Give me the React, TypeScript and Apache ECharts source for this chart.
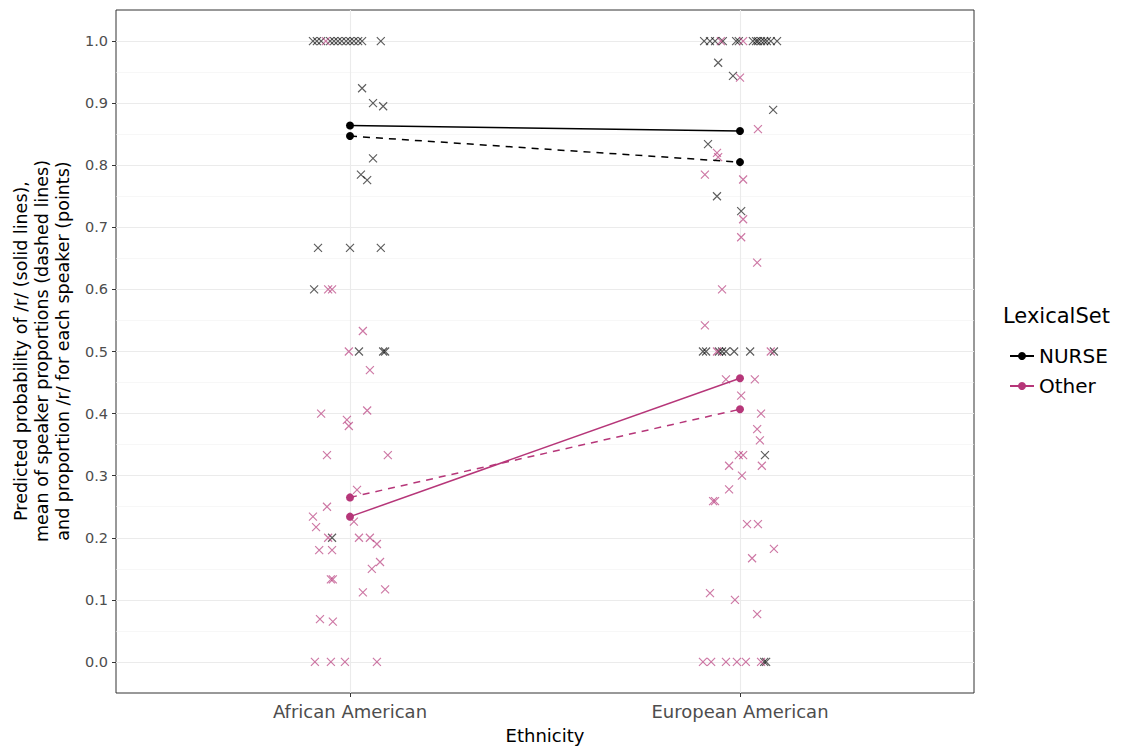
import React, { useEffect, useRef } from "react";
import * as echarts from "echarts";

// Categories (x positions 1 and 2)
const categories = ["African American", "European American"];
const yTicks = [0, 0.1, 0.2, 0.3, 0.4, 0.5, 0.6, 0.7, 0.8, 0.9, 1.0];
const yMinorTicks = [0.05, 0.15, 0.25, 0.35, 0.45, 0.55, 0.65, 0.75, 0.85, 0.95];

// Model predictions (solid) and means of speaker proportions (dashed)
const predNurse = [0.864, 0.855];
const predOther = [0.234, 0.457];
const meanNurse = [0.847, 0.805];
const meanOther = [0.265, 0.407];

// Speaker points: [jitter offset from category, proportion]
const aaNurse = [
  [-0.095, 1], [-0.085, 1], [-0.074, 1], [-0.051, 1], [-0.041, 1], [-0.031, 1], [-0.021, 1],
  [-0.01, 1], [0, 1], [0.01, 1], [0.021, 1], [0.031, 1], [0.079, 1],
  [0.031, 0.924], [0.059, 0.9], [0.085, 0.895], [0.059, 0.811], [0.028, 0.785], [0.044, 0.776],
  [-0.082, 0.667], [0, 0.667], [0.079, 0.667], [-0.092, 0.6], [0.023, 0.5], [0.085, 0.5],
  [0.09, 0.5], [-0.046, 0.2],
];
const aaOther = [
  [-0.062, 1], [-0.056, 0.6], [-0.046, 0.6], [0.033, 0.533], [-0.003, 0.5], [0.051, 0.47],
  [-0.074, 0.4], [0.044, 0.405], [-0.008, 0.39], [-0.003, 0.38], [-0.059, 0.333], [0.097, 0.333],
  [0.018, 0.277], [-0.059, 0.25], [-0.095, 0.234], [0.01, 0.226], [-0.087, 0.217], [-0.056, 0.2],
  [0.023, 0.2], [0.051, 0.2], [0.069, 0.19], [-0.079, 0.18], [-0.046, 0.18], [0.077, 0.161],
  [0.056, 0.15], [-0.049, 0.133], [-0.044, 0.133], [0.033, 0.112], [0.09, 0.117], [-0.077, 0.069],
  [-0.044, 0.065], [-0.09, 0], [-0.049, 0], [-0.013, 0], [0.069, 0],
];
const eaNurse = [
  [-0.092, 1], [-0.077, 1], [-0.064, 1], [-0.044, 1], [-0.01, 1], [-0.003, 1], [0.033, 1],
  [0.041, 1], [0.046, 1], [0.054, 1], [0.062, 1], [0.069, 1], [0.079, 1], [0.095, 1],
  [-0.056, 0.965], [-0.018, 0.944], [0.085, 0.889], [-0.082, 0.834], [-0.059, 0.75], [0.003, 0.726],
  [-0.095, 0.5], [-0.087, 0.5], [-0.054, 0.5], [-0.046, 0.5], [-0.036, 0.5], [-0.015, 0.5],
  [0.026, 0.5], [0.087, 0.5], [0.064, 0.333], [0.062, 0], [0.067, 0],
];
const eaOther = [
  [-0.049, 1], [0.008, 1], [0, 0.941], [0.046, 0.858], [-0.059, 0.82], [-0.056, 0.813],
  [-0.09, 0.785], [0.008, 0.777], [0.008, 0.713], [0.003, 0.684], [0.044, 0.643], [-0.046, 0.6],
  [-0.09, 0.542], [-0.059, 0.5], [0.079, 0.5], [-0.036, 0.455], [0.038, 0.455], [0.003, 0.429],
  [0.054, 0.4], [0.044, 0.375], [0.051, 0.357], [-0.003, 0.333], [0.008, 0.333], [-0.028, 0.316],
  [0.056, 0.316], [0.005, 0.3], [-0.028, 0.278], [-0.069, 0.259], [-0.064, 0.259], [0.018, 0.222],
  [0.046, 0.222], [0.087, 0.182], [0.031, 0.167], [-0.077, 0.111], [-0.013, 0.1], [0.044, 0.077],
  [-0.095, 0], [-0.074, 0], [-0.036, 0], [-0.008, 0], [0.015, 0], [0.054, 0],
];

const NURSE_COLOR = "#000000";
const OTHER_COLOR = "#B63679";
const FONT = "DejaVu Sans";
const CROSS = "path://M0 0L10 10M10 0L0 10";

const pts = (arr: number[][], cat: number) => arr.map(([dx, y]) => [cat + dx, y]);
const linePts = (vals: number[]) => vals.map((v, i) => [i + 1, v]);

export default function App() {
  const ref = useRef<HTMLDivElement>(null);
  useEffect(() => {
    if (!ref.current) return;
    const chart = echarts.init(ref.current, undefined, { renderer: "svg" });
    const scatter = (name: string, data: number[][], color: string) => ({
      name,
      type: "scatter",
      data,
      symbol: CROSS,
      symbolSize: 8,
      z: 1,
      itemStyle: { color: "transparent", borderColor: color, borderWidth: 1.15 },
      emphasis: { disabled: true },
    });
    const line = (name: string, data: number[][], color: string, dashed: boolean) => ({
      name,
      type: "line",
      data,
      symbol: "circle",
      symbolSize: 8,
      showSymbol: true,
      z: 3,
      lineStyle: { color, width: 1.5, type: dashed ? [7, 6] : "solid" },
      itemStyle: { color },
      emphasis: { disabled: true },
    });
    chart.setOption({
      animation: false,
      backgroundColor: "#ffffff",
      grid: {
        left: 116,
        right: 152,
        top: 10,
        bottom: 56,
        show: true,
        borderColor: "#333333",
        borderWidth: 1,
        backgroundColor: "transparent",
      },
      xAxis: {
        type: "value",
        min: 0.4,
        max: 2.6,
        axisLine: { show: false, onZero: false },
        axisTick: { show: true, length: 4, lineStyle: { color: "#333333" }, customValues: [1, 2] },
        axisLabel: {
          customValues: [1, 2],
          formatter: (v: number) => categories[Math.round(v) - 1] ?? "",
          color: "#4D4D4D",
          fontSize: 18,
          fontFamily: FONT,
          margin: 9,
        },
        splitLine: { show: true, lineStyle: { color: "#EBEBEB", width: 1.1 } },
        name: "Ethnicity",
        nameLocation: "middle",
        nameGap: 33,
        nameTextStyle: { color: "#000000", fontSize: 18, fontFamily: FONT },
      },
      yAxis: [
        {
          type: "value",
          min: -0.05,
          max: 1.05,
          axisLine: { show: false, onZero: false },
          axisTick: { show: true, length: 4, lineStyle: { color: "#333333" }, customValues: yTicks },
          axisLabel: {
            customValues: yTicks,
            formatter: (v: number) => v.toFixed(1),
            color: "#4D4D4D",
            fontSize: 14.5,
            fontFamily: FONT,
            margin: 8,
          },
          splitLine: { show: true, lineStyle: { color: "#EBEBEB", width: 1.1 } },
        },
        {
          type: "value",
          min: -0.05,
          max: 1.05,
          position: "left",
          axisLine: { show: false, onZero: false },
          axisTick: { show: false, customValues: yMinorTicks },
          axisLabel: { show: false, customValues: yMinorTicks },
          splitLine: { show: true, lineStyle: { color: "#F2F2F2", width: 0.6 } },
        },
      ],
      legend: {
        data: ["NURSE", "Other"],
        orient: "vertical",
        left: 1004,
        top: 341,
        itemWidth: 24,
        itemHeight: 10,
        itemGap: 10,
        selectedMode: false,
        textStyle: { color: "#000000", fontSize: 20, fontFamily: FONT },
      },
      graphic: [
        {
          type: "text",
          left: 1003,
          top: 305,
          style: { text: "LexicalSet", fill: "#000000", fontSize: 21, fontFamily: FONT },
        },
        {
          type: "text",
          x: 42,
          y: 351,
          rotation: Math.PI / 2,
          style: {
            text:
              "Predicted probability of /r/ (solid lines),\nmean of speaker proportions (dashed lines)\nand proportion /r/ for each speaker (points)",
            fill: "#000000",
            fontSize: 17.5,
            lineHeight: 21,
            fontFamily: FONT,
            align: "center",
            verticalAlign: "middle",
          },
        },
      ],
      series: [
        line("NURSE", linePts(predNurse), NURSE_COLOR, false),
        line("Other", linePts(predOther), OTHER_COLOR, false),
        line("NURSE", linePts(meanNurse), NURSE_COLOR, true),
        line("Other", linePts(meanOther), OTHER_COLOR, true),
        scatter("NURSE", [...pts(aaNurse, 1), ...pts(eaNurse, 2)], "rgba(0,0,0,0.8)"),
        scatter("Other", [...pts(aaOther, 1), ...pts(eaOther, 2)], "rgba(182,54,121,0.85)"),
      ],
    });
    return () => chart.dispose();
  }, []);
  return <div ref={ref} style={{ width: 1126, height: 749, position: "absolute", left: 0, top: 0 }} />;
}
